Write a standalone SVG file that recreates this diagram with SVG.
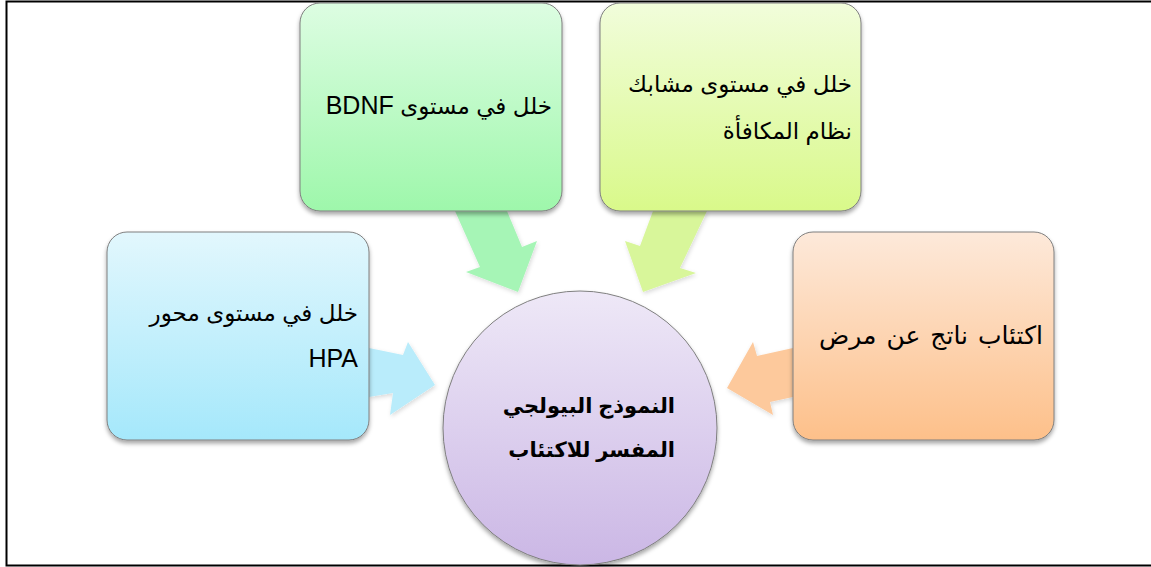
<svg xmlns="http://www.w3.org/2000/svg" width="1151" height="567" viewBox="0 0 1151 567">
  <defs>
    <linearGradient id="gGreen" x1="0" y1="0" x2="0" y2="1">
      <stop offset="0" stop-color="#ddfde2"/>
      <stop offset="1" stop-color="#9ef7ab"/>
    </linearGradient>
    <linearGradient id="gLime" x1="0" y1="0" x2="0" y2="1">
      <stop offset="0" stop-color="#f1fddb"/>
      <stop offset="1" stop-color="#d9f98a"/>
    </linearGradient>
    <linearGradient id="gBlue" x1="0" y1="0" x2="0" y2="1">
      <stop offset="0" stop-color="#e2f7fd"/>
      <stop offset="1" stop-color="#a5e8fb"/>
    </linearGradient>
    <linearGradient id="gOrange" x1="0" y1="0" x2="0" y2="1">
      <stop offset="0" stop-color="#fde9da"/>
      <stop offset="1" stop-color="#fdc08a"/>
    </linearGradient>
    <linearGradient id="gViolet" x1="0" y1="0" x2="0" y2="1">
      <stop offset="0" stop-color="#eee8f7"/>
      <stop offset="1" stop-color="#cbb7e5"/>
    </linearGradient>
    <filter id="shadow" x="-10%" y="-10%" width="130%" height="130%">
      <feDropShadow dx="0" dy="3" stdDeviation="2" flood-color="#000" flood-opacity="0.35"/>
    </filter>
    <filter id="softShadow" x="-20%" y="-20%" width="140%" height="140%">
      <feDropShadow dx="1" dy="2" stdDeviation="2" flood-color="#000" flood-opacity="0.15"/>
    </filter>
  </defs>
  <style>
    .box { stroke: #7f7f7f; stroke-width: 1; filter: url(#shadow); }
    .arrow { stroke: none; filter: url(#softShadow); }
    .label { font-family: "Liberation Sans", Arial, "DejaVu Sans", sans-serif; font-size: 23px; fill: #000; direction: rtl; unicode-bidi: embed; text-anchor: start; }
    .latin { font-size: 25px; }
    .wide { font-size: 25px; word-spacing: 3px; }
    .title { font-weight: bold; font-size: 21px; }
  </style>

  <!-- page frame -->
  <rect x="6.5" y="1.5" width="1160" height="564" fill="#fff" stroke="#000" stroke-width="2"/>

  <!-- connectors: wide block arrows into the central circle -->
  <g id="connectors">
    <polygon class="arrow" fill="#a6f5b6" points="455,211 507,211 522,247 537,241 518,292 466,272 480,267"/>
    <polygon class="arrow" fill="#d8f69a" points="653,211 707,211 680,268 696,273 643,292 625,241 640,246"/>
    <polygon class="arrow" fill="#b9ecfb" points="369,348 403,355 408,342 435,385 390,415 393,393 369,397"/>
    <polygon class="arrow" fill="#fdc99c" points="793,348 757,356 753,342 727,388 773,415 770,402 793,397"/>
  </g>

  <g id="node-bdnf">
    <rect class="box" x="300" y="3" width="262" height="208" rx="20" fill="url(#gGreen)"/>
    <text class="label" x="552" y="114">خلل في مستوى <tspan class="latin">BDNF</tspan></text>
  </g>

  <g id="node-reward">
    <rect class="box" x="600" y="3" width="261" height="208" rx="20" fill="url(#gLime)"/>
    <text class="label" x="852" y="92">خلل في مستوى مشابك</text>
    <text class="label" x="852" y="139">نظام المكافأة</text>
  </g>

  <g id="node-hpa">
    <rect class="box" x="107" y="232" width="262" height="208" rx="20" fill="url(#gBlue)"/>
    <text class="label" x="358" y="321">خلل في مستوى محور</text>
    <text class="label latin" x="358" y="367">HPA</text>
  </g>

  <g id="node-illness">
    <rect class="box" x="793" y="232" width="261" height="208" rx="20" fill="url(#gOrange)"/>
    <text class="label wide" x="1043" y="344">اكتئاب ناتج عن مرض</text>
  </g>

  <g id="node-center">
    <circle class="box" cx="580" cy="428" r="137" fill="url(#gViolet)"/>
    <text class="label title" x="675" y="413">النموذج البيولجي</text>
    <text class="label title" x="675" y="457">المفسر للاكتئاب</text>
  </g>
</svg>
